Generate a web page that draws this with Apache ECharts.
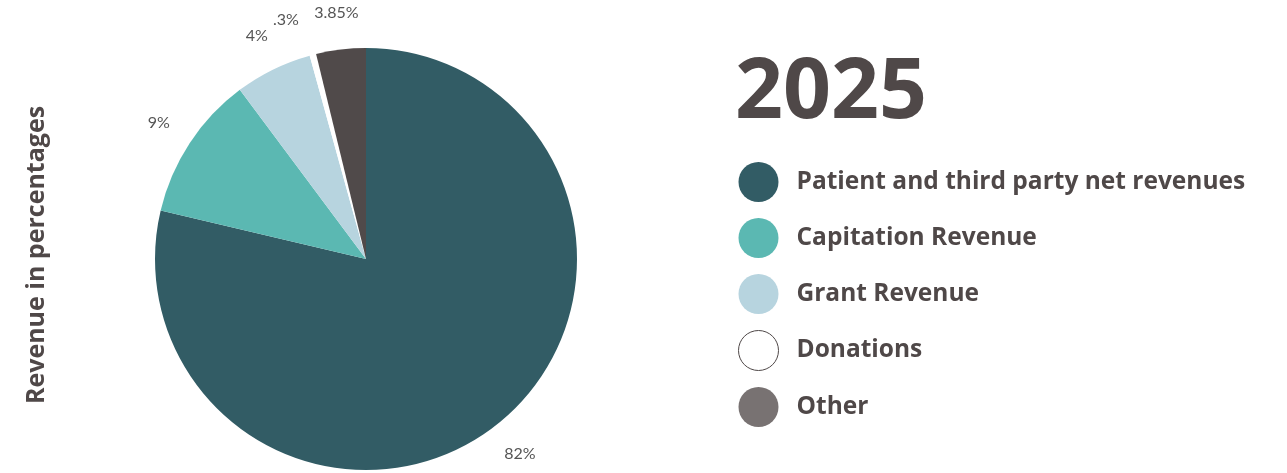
<!DOCTYPE html>
<html>
<head>
<meta charset="utf-8">
<script src="https://cdn.jsdelivr.net/npm/echarts@6/dist/echarts.min.js"></script>
<style>
  html, body { margin: 0; padding: 0; background: #fff; }
  #chart { width: 1287px; height: 473px; }
</style>
</head>
<body>
<div id="chart"></div>
<script>
// 数据
const categories = ['Patient and third party net revenues', 'Capitation Revenue', 'Grant Revenue', 'Donations', 'Other'];
const values = [78.7, 11.1, 5.9, 0.5, 3.8];          // slice sizes as drawn
const sliceLabels = ['82%', '9%', '4%', '.3%', '3.85%']; // printed labels
const sliceColors = ['#325c65', '#5bb8b2', '#b7d4df', '#ffffff', '#504a4a'];
const legendColors = ['#325c65', '#5bb8b2', '#b7d4df', '#ffffff', '#787272'];
const yearTitle = '2025';
const axisTitle = 'Revenue in percentages';

const textColor = '#4f4848';
const labelFont = { fontFamily: 'Lato', fontSize: 16, color: '#555' };
const chart = echarts.init(document.getElementById('chart'));

// 主饼图：只有很小的 Donations 扇区用外部标签
const pieData = categories.map((name, i) => ({
  name, value: values[i],
  itemStyle: { color: sliceColors[i] },
  label: i === 3
    ? { show: true, position: 'outside', formatter: sliceLabels[i], ...labelFont }
    : { show: false }
}));

chart.setOption({
  backgroundColor: '#fff',
  animation: false,
  title: {
    text: yearTitle,
    left: 735, top: 52, padding: 0,
    textStyle: { fontFamily: 'Open Sans', fontWeight: 'bold', fontSize: 84, color: textColor }
  },
  legend: {
    orient: 'vertical',
    left: 738, top: 162, padding: 0,
    icon: 'circle',
    itemWidth: 40, itemHeight: 40, itemGap: 16,
    textStyle: { fontFamily: 'Open Sans', fontWeight: 'bold', fontSize: 24.5, color: textColor, padding: [0, 0, 0, 13] },
    data: categories.map((name, i) => ({
      name,
      itemStyle: i === 3
        ? { color: '#fff', borderColor: textColor, borderWidth: 1 }
        : { color: legendColors[i], borderWidth: 0 }
    }))
  },
  graphic: [{
    type: 'text',
    x: 37, y: 255,
    rotation: Math.PI / 2,
    style: {
      text: axisTitle,
      fill: textColor,
      font: 'bold 25px "Open Sans"',
      align: 'center', verticalAlign: 'middle'
    }
  }],
  series: [
    {
      name: 'Revenue',
      type: 'pie',
      center: [366, 259],
      radius: 211,
      startAngle: 90,
      clockwise: true,
      labelLine: { show: false, length: 36, length2: 0 },
      emphasis: { disabled: true },
      data: pieData
    },
    {
      // 标签层
      name: 'Labels',
      type: 'pie',
      center: [366, 259],
      radius: [232, 258],
      startAngle: 90,
      clockwise: true,
      silent: true,
      itemStyle: { color: 'transparent' },
      label: {
        show: true,
        position: 'inside',
        formatter: p => p.dataIndex === 3 ? '' : sliceLabels[p.dataIndex],
        ...labelFont
      },
      labelLine: { show: false },
      data: categories.map((name, i) => ({ name, value: values[i] }))
    }
  ]
});
</script>
</body>
</html>
